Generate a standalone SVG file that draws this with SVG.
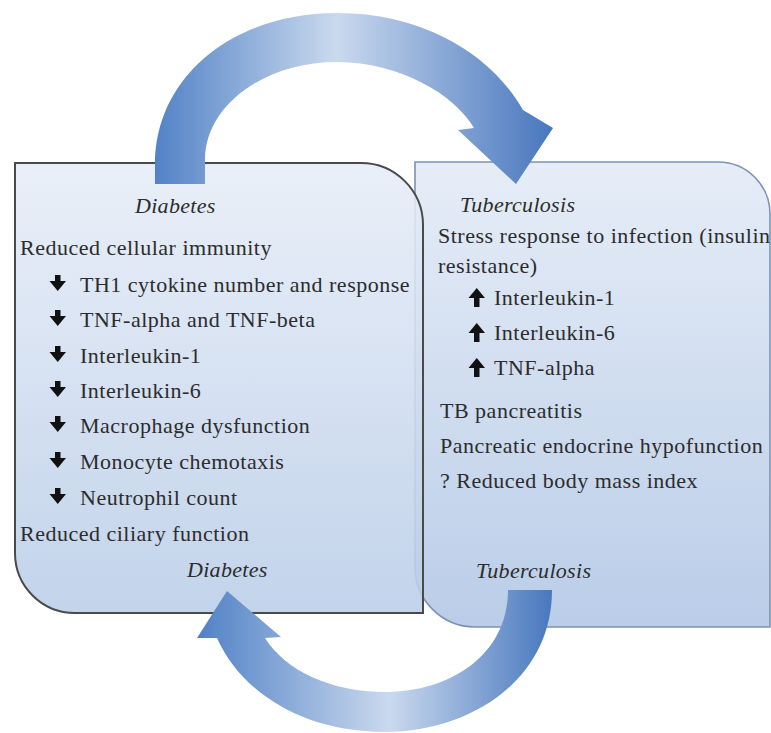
<svg xmlns="http://www.w3.org/2000/svg" width="771" height="733" viewBox="0 0 771 733">
<defs>
<linearGradient id="boxFill" x1="0" y1="0" x2="0" y2="1">
<stop offset="0" stop-color="#e6edf7"/>
<stop offset="1" stop-color="#bacde8"/>
</linearGradient>
<linearGradient id="topArrow" gradientUnits="userSpaceOnUse" x1="150" y1="0" x2="555" y2="0">
<stop offset="0" stop-color="#4f80c5"/>
<stop offset="0.46" stop-color="#cad9ee"/>
<stop offset="1" stop-color="#4676bd"/>
</linearGradient>
<linearGradient id="botArrow" gradientUnits="userSpaceOnUse" x1="195" y1="0" x2="555" y2="0">
<stop offset="0" stop-color="#4f80c5"/>
<stop offset="0.54" stop-color="#cad9ee"/>
<stop offset="1" stop-color="#4676bd"/>
</linearGradient>
<path id="down" d="M5,0 H10.5 V6 H16 L7.75,16 L-0.5,6 H5 Z"/>
<path id="up" d="M7.75,0 L16,10 H10.5 V19 H5 V10 H-0.5 Z"/>
</defs>
<style>
.txt{font-family:"Liberation Serif","Times New Roman",serif;font-size:22px;fill:#2c2c2c;letter-spacing:0.5px}
.hd{font-family:"Liberation Serif","Times New Roman",serif;font-size:22px;font-style:italic;fill:#2c2c2c;letter-spacing:0.3px}
.ar{fill:#111}
</style>
<g id="tuberculosis">
<path d="M415,162 H718 A52,52 0 0 1 770,214 V627 H475 A60,60 0 0 1 415,567 Z" fill="url(#boxFill)" stroke="#7d93b1" stroke-width="1.6"/>
</g>
<g id="diabetes">
<path d="M15,163 H361 A62,62 0 0 1 423,225 V613 H75 A60,60 0 0 1 15,553 Z" fill="url(#boxFill)" fill-opacity="0.88" stroke="#4a4a4a" stroke-width="2"/>
</g>
<g id="connectors">
<path d="M155,184 L155,165 C155,75 235,13 337,13 C430,13 495,60 523,110 L553,128 L516,184 L458,130 L474,128 C455,95 400,62 337,62 C265,62 205,105 205,160 L205,184 Z" fill="url(#topArrow)"/>
<path d="M508,590 L552,590 C552,680 470,732 385,732 C300,732 240,690 217,638 L197,638 L227,591 L281,637 L265,638 C285,670 330,692 385,692 C450,692 508,655 508,590 Z" fill="url(#botArrow)"/>
</g>
<g id="diabetes-text">
<text class="hd" x="135" y="213">Diabetes</text>
<text class="txt" x="20" y="255">Reduced cellular immunity</text>
<use href="#down" class="ar" x="50" y="275"/><text class="txt" x="80" y="292">TH1 cytokine number and response</text>
<use href="#down" class="ar" x="50" y="310"/><text class="txt" x="80" y="327">TNF-alpha and TNF-beta</text>
<use href="#down" class="ar" x="50" y="346"/><text class="txt" x="80" y="363">Interleukin-1</text>
<use href="#down" class="ar" x="50" y="381"/><text class="txt" x="80" y="398">Interleukin-6</text>
<use href="#down" class="ar" x="50" y="416"/><text class="txt" x="80" y="433">Macrophage dysfunction</text>
<use href="#down" class="ar" x="50" y="452"/><text class="txt" x="80" y="469">Monocyte chemotaxis</text>
<use href="#down" class="ar" x="50" y="488"/><text class="txt" x="80" y="505">Neutrophil count</text>
<text class="txt" x="20" y="541">Reduced ciliary function</text>
<text class="hd" x="187" y="577">Diabetes</text>
</g>
<g id="tuberculosis-text">
<text class="hd" x="460" y="212">Tuberculosis</text>
<text class="txt" x="438" y="243">Stress response to infection (insulin</text>
<text class="txt" x="438" y="273">resistance)</text>
<use href="#up" class="ar" x="469" y="288"/><text class="txt" x="494" y="305">Interleukin-1</text>
<use href="#up" class="ar" x="469" y="323"/><text class="txt" x="494" y="340">Interleukin-6</text>
<use href="#up" class="ar" x="469" y="358"/><text class="txt" x="494" y="375">TNF-alpha</text>
<text class="txt" x="440" y="418">TB pancreatitis</text>
<text class="txt" x="440" y="453">Pancreatic endocrine hypofunction</text>
<text class="txt" x="440" y="488">? Reduced body mass index</text>
<text class="hd" x="476" y="578">Tuberculosis</text>
</g>
</svg>
